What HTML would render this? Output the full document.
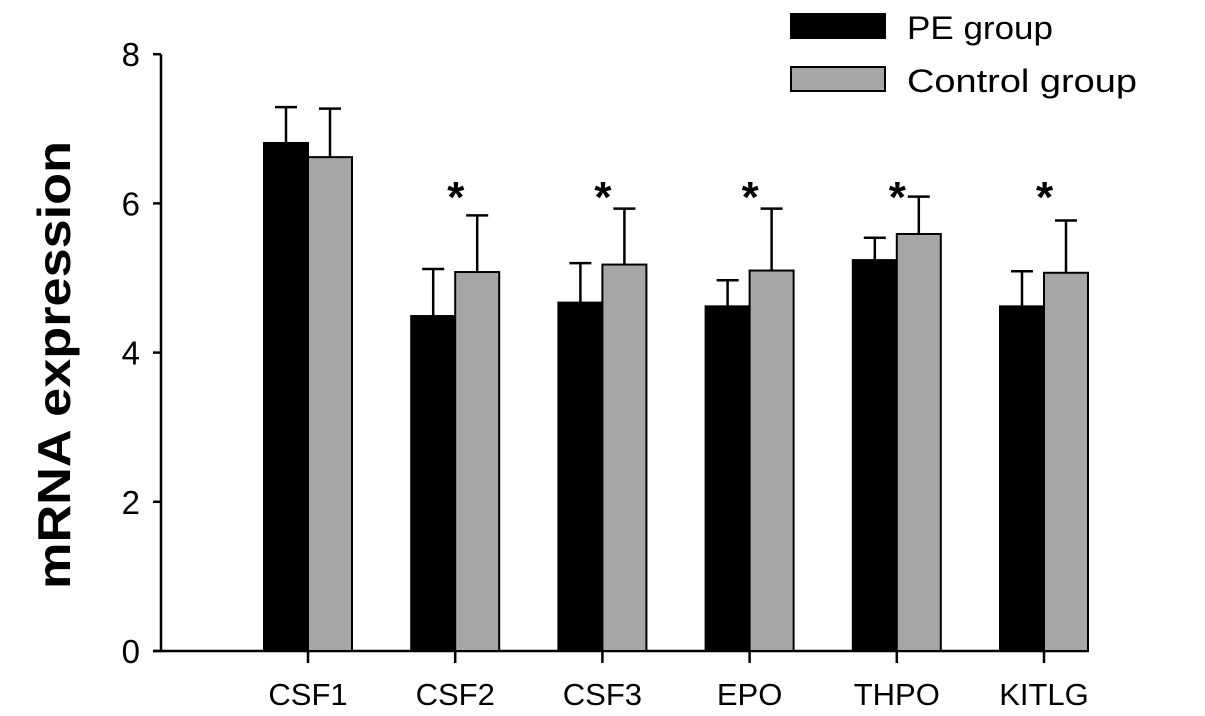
<!DOCTYPE html>
<html><head><meta charset="utf-8"><style>
html,body{margin:0;padding:0;background:#fff;}
svg{display:block;font-family:"Liberation Sans","DejaVu Sans",sans-serif;}
</style></head><body>
<svg id="chart" width="1205" height="716" viewBox="0 0 1205 716">
<g id="plot"></g>
<text x="70" y="365" transform="rotate(-90 70 365)" text-anchor="middle" font-size="46" font-weight="bold" textLength="448" lengthAdjust="spacingAndGlyphs">mRNA expression</text>
<g>
<rect x="791" y="14" width="94" height="24" fill="#000" stroke="#000" stroke-width="2"/>
<text x="907" y="39" font-size="32" textLength="146" lengthAdjust="spacingAndGlyphs">PE group</text>
<rect x="791" y="67" width="94" height="24" fill="#a6a6a6" stroke="#000" stroke-width="2"/>
<text x="907" y="92" font-size="32" textLength="230" lengthAdjust="spacingAndGlyphs">Control group</text>
</g>
</svg>
<script>
const categories = ["CSF1","CSF2","CSF3","EPO","THPO","KITLG"];
const peValues = [6.81,4.49,4.67,4.62,5.24,4.62];
const peErrors = [0.48,0.63,0.53,0.35,0.30,0.47];
const controlValues = [6.62,5.08,5.18,5.10,5.59,5.07];
const controlErrors = [0.65,0.76,0.75,0.83,0.50,0.70];
const significant = [false,true,true,true,true,true];
const yTicks = [0,2,4,6,8];

const NS = "http://www.w3.org/2000/svg";
const g = document.getElementById("plot");
const x0 = 161, xEnd = 1089, yBase = 651, pxPerUnit = 74.6;
const firstCenter = 308, step = 147.2, barW = 44;
function yScale(v){ return yBase - v * pxPerUnit; }
function xScale(i){ return firstCenter + i * step; }
function mk(tag, attrs){ const e = document.createElementNS(NS, tag); for (const k in attrs) e.setAttribute(k, attrs[k]); g.appendChild(e); return e; }

let e = mk("line",{x1:x0,y1:yScale(8),x2:x0,y2:yBase+1,stroke:"#000","stroke-width":2.5});


e = mk("line",{x1:x0-8,y1:yBase,x2:xEnd,y2:yBase,stroke:"#000","stroke-width":2.5});



yTicks.forEach(t => {
  const y = yScale(t);
  let l = mk("line",{x1:x0-8,y1:y,x2:x0,y2:y,stroke:"#000","stroke-width":2.5});
  
  
  let tx = mk("text",{x:140,y:y+12,"text-anchor":"end","font-size":33});
  tx.textContent = t;
  
  
});

categories.forEach((c,i) => {
  const cx = xScale(i);
  let t = mk("line",{x1:cx,y1:yBase,x2:cx,y2:yBase+12,stroke:"#000","stroke-width":2.5});
  
  
  let lb = mk("text",{x:cx,y:705,"text-anchor":"middle","font-size":31});
  lb.textContent = c;
  
  

  const series = [[peValues[i],peErrors[i],"#000",cx-barW,'bar-pe'],[controlValues[i],controlErrors[i],"#a6a6a6",cx,'bar-control']];
  series.forEach(s => {
    const bx = s[3] + barW/2;
    let eb = mk("line",{x1:bx,y1:yScale(s[0]),x2:bx,y2:yScale(s[0]+s[1]),stroke:"#000","stroke-width":2.5});
    
    
    let cap = mk("line",{x1:bx-11,y1:yScale(s[0]+s[1]),x2:bx+11,y2:yScale(s[0]+s[1]),stroke:"#000","stroke-width":2.5});
    
    
    let r = mk("rect",{x:s[3],y:yScale(s[0]),width:barW,height:yBase-yScale(s[0]),fill:s[2],stroke:"#000","stroke-width":2});
    
    
  });
  if (significant[i]) {
    let st = mk("text",{x:cx-8,y:212,"font-size":44,"font-weight":"bold"});
    st.textContent = "*";
    
    
  }
});
</script>
</body></html>
